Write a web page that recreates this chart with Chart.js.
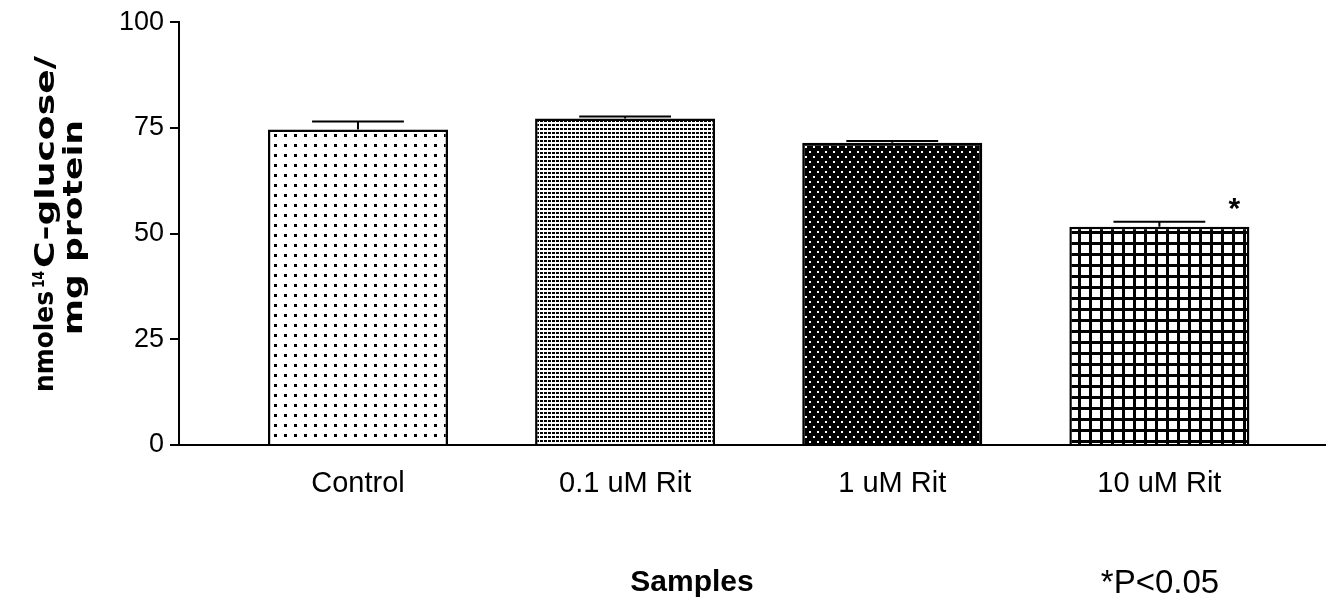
<!DOCTYPE html>
<html lang="en">
<head>
  <meta charset="UTF-8">
  <title>Glucose uptake</title>
  <script src="https://cdn.jsdelivr.net/npm/chart.js"></script>
  <style>
    html, body { margin: 0; padding: 0; background: #fff; }
    #wrap { width: 1332px; height: 600px; position: relative; }
  </style>
</head>
<body>
  <div id="wrap"><canvas id="chart" width="1332" height="600"></canvas></div>

  <script>
    // data
    var categories = ['Control', '0.1 uM Rit', '1 uM Rit', '10 uM Rit'];
    var means = [74.6, 77.2, 71.5, 51.6];
    var errors = [1.9, 0.5, 0.4, 1.2];
    var significant = [false, false, false, true];
    var yTicks = [0, 25, 50, 75, 100];

    var FONT = '"Liberation Sans", Arial, sans-serif';
    var HEAVY = '"DejaVu Sans", "Liberation Sans", sans-serif';

    // fill patterns for each bar
    function makePattern(w, h, draw) {
      var c = document.createElement('canvas');
      c.width = w; c.height = h;
      var g = c.getContext('2d');
      draw(g);
      return document.getElementById('chart').getContext('2d').createPattern(c, 'repeat');
    }
    var patterns = [
      makePattern(10, 10, function (g) {
        g.fillStyle = '#fff'; g.fillRect(0, 0, 10, 10);
        g.fillStyle = '#000'; g.fillRect(4, 4, 3, 3);
      }),
      makePattern(4, 4, function (g) {
        g.fillStyle = '#fff'; g.fillRect(0, 0, 4, 4);
        g.fillStyle = '#000'; g.fillRect(0, 0, 3, 2);
      }),
      makePattern(8, 10, function (g) {
        g.fillStyle = '#000'; g.fillRect(0, 0, 8, 10);
        g.fillStyle = '#fff'; g.fillRect(1, 1, 2, 2); g.fillRect(5, 6, 2, 2);
      }),
      makePattern(11, 11, function (g) {
        g.fillStyle = '#fff'; g.fillRect(0, 0, 11, 11);
        g.fillStyle = '#000'; g.fillRect(0, 0, 11, 3); g.fillRect(0, 0, 3, 11);
      })
    ];

    // draw text stretched along its direction to a target width
    function fitText(ctx, text, x, y, width, align) {
      var w = ctx.measureText(text).width;
      ctx.save();
      ctx.translate(x, y);
      ctx.scale(width / w, 1);
      ctx.textAlign = align || 'left';
      ctx.fillText(text, 0, 0);
      ctx.restore();
    }

    // error bars (upper whisker only) and significance star
    var errorBars = {
      id: 'errorBars',
      afterDatasetsDraw: function (chart) {
        var ctx = chart.ctx;
        var meta = chart.getDatasetMeta(0);
        var y = chart.scales.y;
        ctx.save();
        ctx.strokeStyle = '#000';
        ctx.lineWidth = 2;
        meta.data.forEach(function (bar, i) {
          var top = y.getPixelForValue(means[i] + errors[i]);
          var half = bar.width * 0.255;
          ctx.beginPath();
          ctx.moveTo(bar.x, bar.y);
          ctx.lineTo(bar.x, top);
          ctx.moveTo(bar.x - half, top);
          ctx.lineTo(bar.x + half, top);
          ctx.stroke();
          if (significant[i]) {
            ctx.fillStyle = '#000';
            ctx.font = 'bold 30px ' + FONT;
            ctx.textAlign = 'center';
            ctx.textBaseline = 'middle';
            ctx.fillText('*', bar.x + bar.width / 2 - 15, top - 12);
          }
        });
        ctx.restore();
      }
    };

    // rotated y title, bottom x title and footnote
    var titles = {
      id: 'titles',
      afterDraw: function (chart) {
        var ctx = chart.ctx;
        ctx.save();
        ctx.fillStyle = '#000';
        ctx.textBaseline = 'alphabetic';

        // y axis title, drawn in a frame rotated -90deg
        ctx.save();
        ctx.rotate(-Math.PI / 2);
        ctx.font = 'bold 26px ' + HEAVY;
        fitText(ctx, 'nmoles', -392, 53, 101);
        ctx.font = 'bold 15px ' + HEAVY;
        fitText(ctx, '14', -288, 44, 17);
        ctx.font = 'bold 26px ' + HEAVY;
        fitText(ctx, 'C-glucose/', -268, 54, 212);
        fitText(ctx, 'mg protein', -335, 82, 215);
        ctx.restore();

        ctx.textAlign = 'center';
        ctx.font = 'bold 30px ' + FONT;
        ctx.fillText('Samples', 692, 591);
        ctx.font = '33px ' + FONT;
        ctx.fillText('*P<0.05', 1160, 593);
        ctx.restore();
      }
    };

    new Chart(document.getElementById('chart'), {
      type: 'bar',
      data: {
        datasets: [{
          data: means.map(function (v, i) { return { x: i + 1, y: v }; }),
          backgroundColor: patterns,
          borderColor: '#000',
          borderWidth: 2.5,
          barPercentage: 0.674,
          categoryPercentage: 1
        }]
      },
      plugins: [errorBars, titles],
      options: {
        responsive: false,
        animation: false,
        devicePixelRatio: 1,
        layout: { padding: { left: 0, right: 7, top: 20, bottom: 0 } },
        plugins: { legend: { display: false }, tooltip: { enabled: false } },
        scales: {
          x: {
            type: 'linear',
            offset: false,
            min: 0.33,
            max: 4.62,
            afterBuildTicks: function (scale) {
              scale.ticks = categories.map(function (c, i) { return { value: i + 1 }; });
            },
            afterFit: function (scale) { scale.height = 155; },
            grid: { display: false },
            border: { display: true, color: '#000', width: 2 },
            ticks: {
              padding: 14,
              color: '#000',
              font: { family: FONT, size: 29 },
              maxRotation: 0,
              autoSkip: false,
              callback: function (v) { return categories[v - 1] || ''; }
            }
          },
          y: {
            min: 0,
            max: 100,
            afterBuildTicks: function (scale) {
              scale.ticks = yTicks.map(function (v) { return { value: v }; });
            },
            afterFit: function (scale) { scale.width = 179; },
            grid: { drawOnChartArea: false, drawTicks: true, tickLength: 9, color: '#000', lineWidth: 2 },
            border: { display: true, color: '#000', width: 2 },
            ticks: {
              padding: 6,
              color: '#000',
              font: { family: FONT, size: 27 }
            }
          }
        }
      }
    });
  </script>
</body>
</html>
